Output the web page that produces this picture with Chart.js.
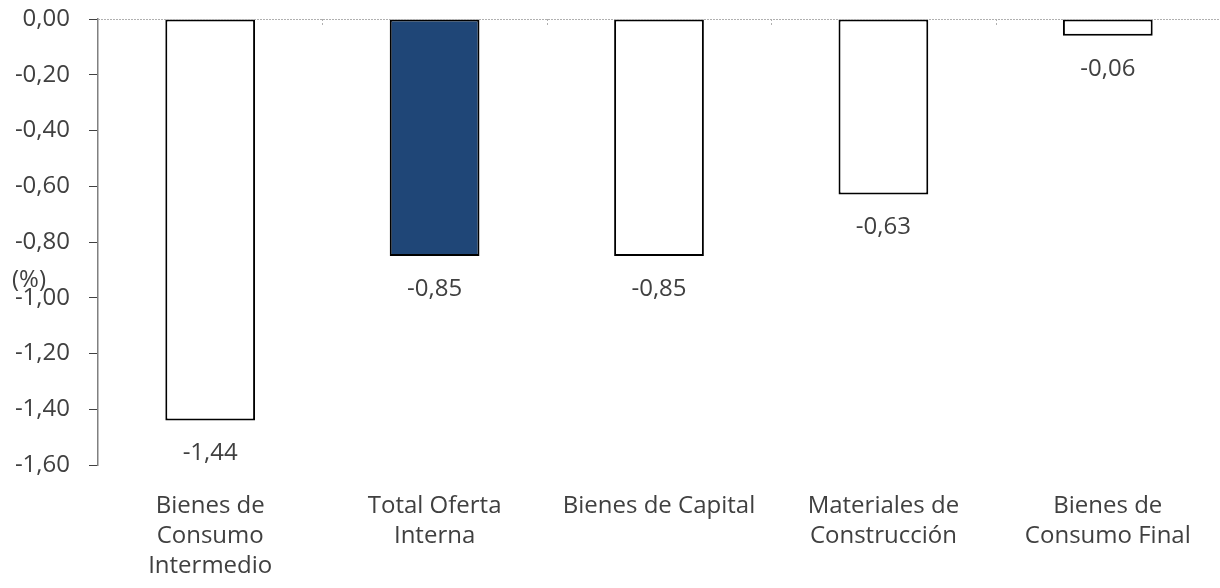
<!DOCTYPE html>
<html>
<head>
<meta charset="utf-8">
<script src="https://cdn.jsdelivr.net/npm/chart.js@4/dist/chart.umd.min.js"></script>
<style>
  html, body { margin: 0; padding: 0; background: #fff; }
  #wrap { width: 1220px; height: 588px; }
</style>
</head>
<body>
<div id="wrap"><canvas id="grafico" width="1220" height="588"></canvas></div>
<script>
const categorias = [
  ["Bienes de", "Consumo", "Intermedio"],
  ["Total Oferta", "Interna"],
  "Bienes de Capital",
  ["Materiales de", "Construcción"],
  ["Bienes de", "Consumo Final"],
]
const variaciones = [-1.44, -0.85, -0.85, -0.63, -0.06]
const coloresBarras = ["#ffffff", "#1f4677", "#ffffff", "#ffffff", "#ffffff"]
const ejeMin = -1.6
const ejeMax = 0
const ejePaso = 0.2

const fuente = "'Open Sans', 'Noto Sans', sans-serif"
const colorTexto = "#404040"

const formatoComa = (v) => {
  if (Math.abs(v) < 1e-9) v = 0
  return v.toFixed(2).replace(".", ",")
}

// Línea de cero punteada, marcas del eje X, etiquetas de datos y "(%)"
const extrasPlugin = {
  id: "extras",
  afterDatasetsDraw(chart) {
    const { ctx, chartArea, scales } = chart
    const x = scales.x
    const y = scales.y
    const y0 = y.getPixelForValue(0)

    ctx.save()
    ctx.strokeStyle = "#b0b0b0"
    ctx.lineWidth = 1
    ctx.setLineDash([2, 1])
    ctx.beginPath()
    ctx.moveTo(chartArea.left, y0 + 0.5)
    ctx.lineTo(chartArea.right, y0 + 0.5)
    ctx.stroke()
    ctx.setLineDash([2, 2])
    for (let i = 1; i < categorias.length; i++) {
      const xb = Math.round((x.getPixelForValue(i - 1) + x.getPixelForValue(i)) / 2) + 0.5
      ctx.beginPath()
      ctx.moveTo(xb, y0)
      ctx.lineTo(xb, y0 + 8)
      ctx.stroke()
    }
    ctx.restore()

    const meta = chart.getDatasetMeta(0)
    ctx.save()
    ctx.font = "24px " + fuente
    ctx.fillStyle = colorTexto
    ctx.textAlign = "center"
    ctx.textBaseline = "middle"
    meta.data.forEach((bar, i) => {
      ctx.fillText(formatoComa(variaciones[i]), bar.x, bar.y + 33)
    })
    ctx.textAlign = "left"
    ctx.fillText("(%)", 12, (chartArea.top + chartArea.bottom) / 2 + 38)
    ctx.restore()
  },
}

new Chart(document.getElementById("grafico"), {
  type: "bar",
  data: {
    labels: categorias,
    datasets: [
      {
        data: variaciones,
        backgroundColor: coloresBarras,
        borderColor: "#000000",
        borderWidth: 2,
        borderSkipped: false,
        barPercentage: 0.4,
        categoryPercentage: 1,
      },
    ],
  },
  options: {
    responsive: false,
    animation: false,
    devicePixelRatio: 1,
    layout: { padding: { top: 19, right: 0, left: 0, bottom: 0 } },
    plugins: {
      legend: { display: false },
      tooltip: { enabled: false },
    },
    scales: {
      x: {
        position: "bottom",
        grid: { display: false },
        border: { display: false },
        ticks: {
          color: colorTexto,
          font: { family: fuente, size: 24, lineHeight: 1.25 },
          padding: 18,
          maxRotation: 0,
          autoSkip: false,
        },
        afterFit: (scale) => {
          scale.height = 123
        },
      },
      y: {
        min: ejeMin,
        max: ejeMax,
        grid: {
          drawOnChartArea: false,
          drawTicks: true,
          tickLength: 9,
          tickColor: "#404040",
        },
        border: { display: true, color: "#808080", width: 1.5 },
        ticks: {
          stepSize: ejePaso,
          color: colorTexto,
          font: { family: fuente, size: 24 },
          padding: 19,
          callback: (v) => formatoComa(v),
        },
        afterFit: (scale) => {
          scale.width = 98
          scale.paddingTop = 0
          scale.paddingBottom = 0
        },
      },
    },
  },
  plugins: [extrasPlugin],
})
</script>
</body>
</html>
